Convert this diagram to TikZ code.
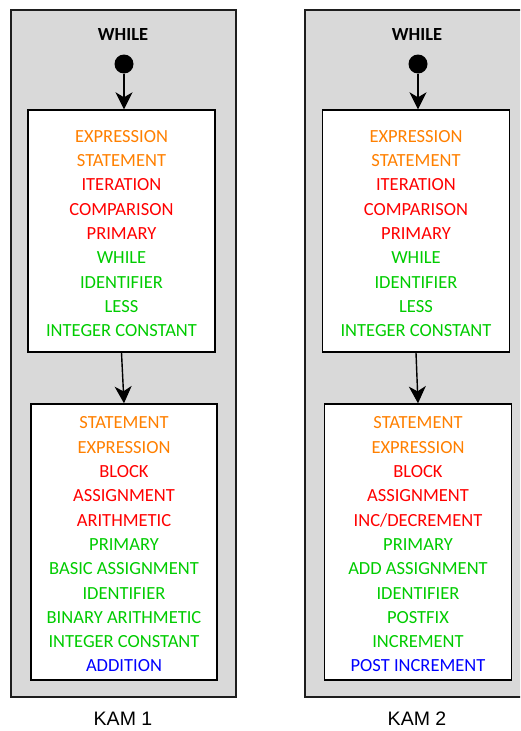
\documentclass[tikz,border=0pt]{standalone}
\usepackage{fontspec}
\setmainfont{Carlito}
\newfontfamily\arialfont{Liberation Sans}
\usetikzlibrary{arrows.meta}
\definecolor{corange}{RGB}{255,128,0}
\definecolor{cred}{RGB}{255,0,0}
\definecolor{cgreen}{RGB}{0,204,0}
\definecolor{cblue}{RGB}{0,0,255}
\definecolor{panelgray}{RGB}{217,217,217}
\definecolor{edge}{RGB}{30,30,30}
\newcommand{\tOr}[1]{\textcolor{corange}{#1}}
\newcommand{\tRd}[1]{\textcolor{cred}{#1}}
\newcommand{\tGr}[1]{\textcolor{cgreen}{#1}}
\newcommand{\tBl}[1]{\textcolor{cblue}{#1}}
\begin{document}
\begin{tikzpicture}[x=1pt,y=-1pt,
  panel/.style={draw=edge, line width=1.4pt, fill=panelgray},
  stbox/.style={draw=black, line width=1.4pt, fill=white, inner sep=0pt},
  boxtext/.style={inner sep=0pt, align=center, font=\fontsize{18.5}{24.3}\selectfont},
  dot/.style={circle, fill=black, inner sep=0pt, minimum size=19pt},
  titlelabel/.style={font=\fontsize{18.5}{22}\selectfont\bfseries, text=black},
  kamlabel/.style={font=\arialfont\fontsize{19.5}{22}\selectfont, text=black},
  arr/.style={line width=1.4pt, -{Stealth[length=17pt,width=17pt,inset=5pt]}}]
\useasboundingbox (0,0) rectangle (520,731);
\clip (0,0) rectangle (520,731);
\fill[white] (0,0) rectangle (520,731);
% panels
\node[panel, minimum width=225pt, minimum height=687pt, inner sep=0pt] (P1) at (123.5,353.5) {};
\node[panel, minimum width=225pt, minimum height=687pt, inner sep=0pt] (P2) at (417.5,353.5) {};
% left
\node[titlelabel] (W1) at (123,35) {WHILE};
\node[dot] (D1) at (124,64) {};
\node[stbox, minimum width=187pt, minimum height=242pt] (A1) at (121.5,231) {};
\node[boxtext] (A1t) at ([yshift=-2.5pt]A1.center) {
\tOr{EXPRESSION}\\ \tOr{STATEMENT}\\ \tRd{ITERATION}\\ \tRd{COMPARISON}\\ \tRd{PRIMARY}\\
\tGr{WHILE}\\ \tGr{IDENTIFIER}\\ \tGr{LESS}\\ \tGr{INTEGER CONSTANT}};
\node[stbox, minimum width=186pt, minimum height=276pt] (B1) at (124,542) {};
\node[boxtext] (B1t) at ([yshift=-2.5pt]B1.center) {
\tOr{STATEMENT}\\ \tOr{EXPRESSION}\\ \tRd{BLOCK}\\ \tRd{ASSIGNMENT}\\ \tRd{ARITHMETIC}\\
\tGr{PRIMARY}\\ \tGr{BASIC ASSIGNMENT}\\ \tGr{IDENTIFIER}\\ \tGr{BINARY ARITHMETIC}\\ \tGr{INTEGER CONSTANT}\\ \tBl{ADDITION}};
\draw[arr] (D1) -- (D1 |- A1.north);
\draw[arr] (A1.south) -- (B1.north);
\node[kamlabel] (K1) at (123,719) {KAM 1};
% right
\node[titlelabel] (W2) at (417,35) {WHILE};
\node[dot] (D2) at (418,64) {};
\node[stbox, minimum width=187pt, minimum height=242pt] (A2) at (416,231) {};
\node[boxtext] (A2t) at ([yshift=-2.5pt]A2.center) {
\tOr{EXPRESSION}\\ \tOr{STATEMENT}\\ \tRd{ITERATION}\\ \tRd{COMPARISON}\\ \tRd{PRIMARY}\\
\tGr{WHILE}\\ \tGr{IDENTIFIER}\\ \tGr{LESS}\\ \tGr{INTEGER CONSTANT}};
\node[stbox, minimum width=187pt, minimum height=276pt] (B2) at (418,542) {};
\node[boxtext] (B2t) at ([yshift=-2.5pt]B2.center) {
\tOr{STATEMENT}\\ \tOr{EXPRESSION}\\ \tRd{BLOCK}\\ \tRd{ASSIGNMENT}\\ \tRd{INC/DECREMENT}\\
\tGr{PRIMARY}\\ \tGr{ADD ASSIGNMENT}\\ \tGr{IDENTIFIER}\\ \tGr{POSTFIX}\\ \tGr{INCREMENT}\\ \tBl{POST INCREMENT}};
\draw[arr] (D2) -- (D2 |- A2.north);
\draw[arr] (A2.south) -- (B2.north);
\node[kamlabel] (K2) at (417,719) {KAM 2};
\end{tikzpicture}
\end{document}
